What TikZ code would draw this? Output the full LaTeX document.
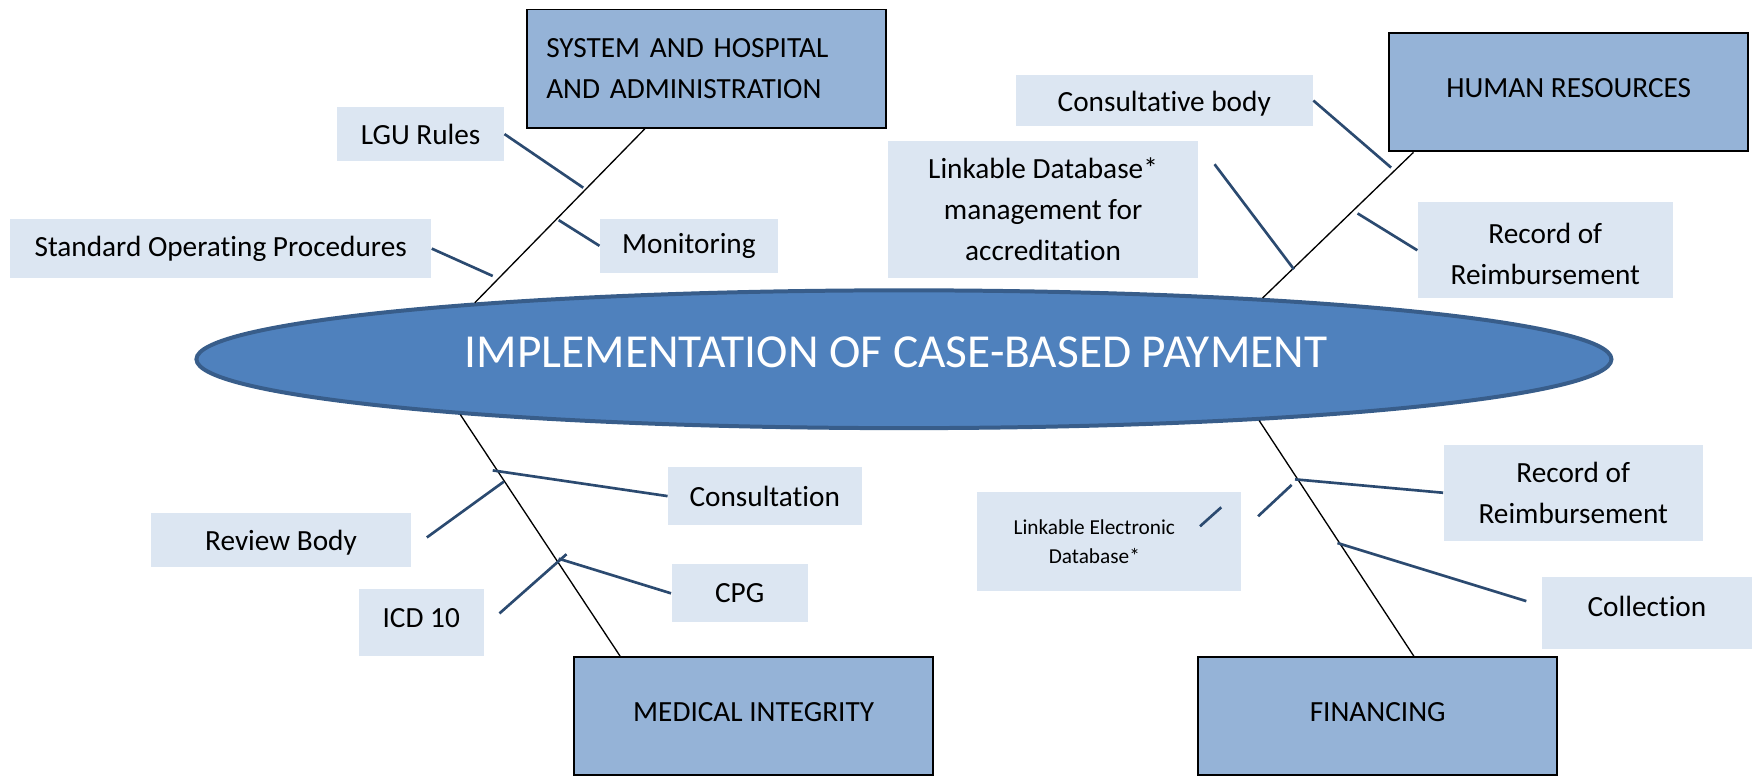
\documentclass[tikz,border=0pt]{standalone}
\usepackage{fontspec}
\setmainfont{Carlito}[Ligatures=NoCommon]
\usetikzlibrary{shapes.geometric,calc}
\definecolor{boxblue}{HTML}{95B3D7}
\definecolor{labelblue}{HTML}{DCE6F2}
\definecolor{ovalblue}{HTML}{4F81BD}
\definecolor{ovalrim}{HTML}{385D8A}
\definecolor{branchblue}{HTML}{2B4A70}
\newcommand{\lift}[2]{\raisebox{#1}[\height][\depth]{#2}}
\begin{document}
\begin{tikzpicture}[x=0.42pt,y=-0.42pt,
    cat/.style={draw=black,line width=0.7pt,fill=boxblue,minimum width=135pt,
      minimum height=44.5pt,inner sep=0pt,font=\fontsize{11}{15.4}\selectfont},
    cause/.style={fill=labelblue,inner sep=0pt,align=center,
      font=\fontsize{11}{15.4}\selectfont},
    spine/.style={draw=black,line width=0.5pt},
    branch/.style={draw=branchblue,line width=1pt}]
  \useasboundingbox (0,0) rectangle (1568,694.5);
  \node[ellipse,draw=ovalrim,line width=1.5pt,fill=ovalblue,minimum width=531.9pt,
    minimum height=51.8pt,inner sep=0pt,text=white,font=\fontsize{17.8}{20}\selectfont]
    (case) at (809,321.5) {\lift{2.5pt}{IMPLEMENTATION OF CASE-BASED PAYMENT}\hspace*{6pt}};
  \node[cat,align=left,text width=120.2pt] (sys) at (632,61.5) {SYSTEM AND HOSPITAL\\AND ADMINISTRATION};
  \node[cat] (hr) at (1404,82.5) {\lift{1.5pt}{HUMAN RESOURCES}};
  \node[cat] (mi) at (674.5,641) {\lift{1.7pt}{MEDICAL INTEGRITY}};
  \node[cat] (fin) at (1233,641) {\lift{1.7pt}{FINANCING}};
  \node[cause,minimum width=62.6pt,minimum height=20.2pt] (lgu) at (376.5,120) {LGU Rules};
  \node[cause,minimum width=66.8pt,minimum height=20.2pt] (mon) at (616.5,220) {Monitoring};
  \node[cause,minimum width=158.3pt,minimum height=22.3pt] (sop) at (197.5,222.5) {Standard Operating Procedures};
  \node[cause,minimum width=111.7pt,minimum height=19.3pt] (cons) at (1042,90) {\lift{-1pt}{Consultative body}};
  \node[cause,minimum width=116.3pt,minimum height=51.7pt] (ldb) at (933.5,187.5) {Linkable Database*\\management for\\accreditation};
  \node[cause,minimum width=95.8pt,minimum height=36.1pt] (rec1) at (1383,224) {\lift{-1.3pt}{Record of}\\\lift{-1.3pt}{Reimbursement}};
  \node[cause,minimum width=72.7pt,minimum height=21.8pt] (consult) at (684.5,444) {Consultation};
  \node[cause,minimum width=97.9pt,minimum height=20.2pt] (rev) at (251.5,483) {\lift{-1.3pt}{Review Body}};
  \node[cause,minimum width=47pt,minimum height=25.2pt] (icd) at (377,557) {\lift{1.7pt}{ICD 10}};
  \node[cause,minimum width=51.2pt,minimum height=21.8pt] (cpg) at (662,531) {CPG};
  \node[cause,minimum width=97.4pt,minimum height=36.1pt] (rec2) at (1408,441) {Record of\\Reimbursement};
  \node[cause,minimum width=99.5pt,minimum height=37.4pt,font=\fontsize{8}{11}\selectfont] (led) at (992.5,484.5) {Linkable Electronic\hspace*{11pt}\\Database*\hspace*{11pt}};
  \node[cause,minimum width=79pt,minimum height=27.3pt] (coll) at (1474,548.5) {\lift{2.3pt}{Collection}};
  \draw[spine] ($(sys.south west)!.33!(sys.south east)$) -- ($(case.center)+(-384,-50.6)$);
  \draw[spine] ($(hr.south west)!.07!(hr.south east)$) -- ($(case.center)+(321,-54.8)$);
  \draw[spine] ($(case.center)+(-397,49.6)$) -- ($(mi.north west)!.13!(mi.north east)$);
  \draw[spine] ($(case.center)+(318,55)$) -- ($(fin.north west)!.6!(fin.north east)$);
  \coordinate (lgu-j) at (522,168);
  \coordinate (mon-j) at (500,197);
  \coordinate (sop-j) at (441,247);
  \coordinate (cons-j) at (1245,150);
  \coordinate (ldb-a) at (1087,147);
  \coordinate (ldb-j) at (1158,241);
  \coordinate (rec1-j) at (1215,191);
  \coordinate (consult-j) at (441,421);
  \coordinate (rev-j) at (451,431);
  \coordinate (rev-a) at (382,481);
  \coordinate (icd-j) at (507,496);
  \coordinate (icd-a) at (447,549);
  \coordinate (cpg-j) at (500,500);
  \coordinate (rec2-j) at (1159,429);
  \coordinate (led-j) at (1156,434);
  \coordinate (led-a) at (1126,462);
  \coordinate (led-b) at (1093,454);
  \coordinate (led-c) at (1074,471);
  \coordinate (coll-j) at (1197,486);
  \coordinate (coll-a) at (1366,538);
  \begin{scope}[branch]
    \draw (lgu.east) -- (lgu-j);
    \draw (mon-j) -- (mon.west);
    \draw (sop.east) -- (sop-j);
    \draw (cons.east) -- (cons-j);
    \draw (ldb-a) -- (ldb-j);
    \draw (rec1-j) -- (rec1.west);
    \draw (consult-j) -- (consult.west);
    \draw (rev-j) -- (rev-a);
    \draw (icd-j) -- (icd-a);
    \draw (cpg-j) -- (cpg.west);
    \draw (rec2-j) -- (rec2.west);
    \draw (led-j) -- (led-a);
    \draw (led-b) -- (led-c);
    \draw (coll-j) -- (coll-a);
  \end{scope}
\end{tikzpicture}
\end{document}
